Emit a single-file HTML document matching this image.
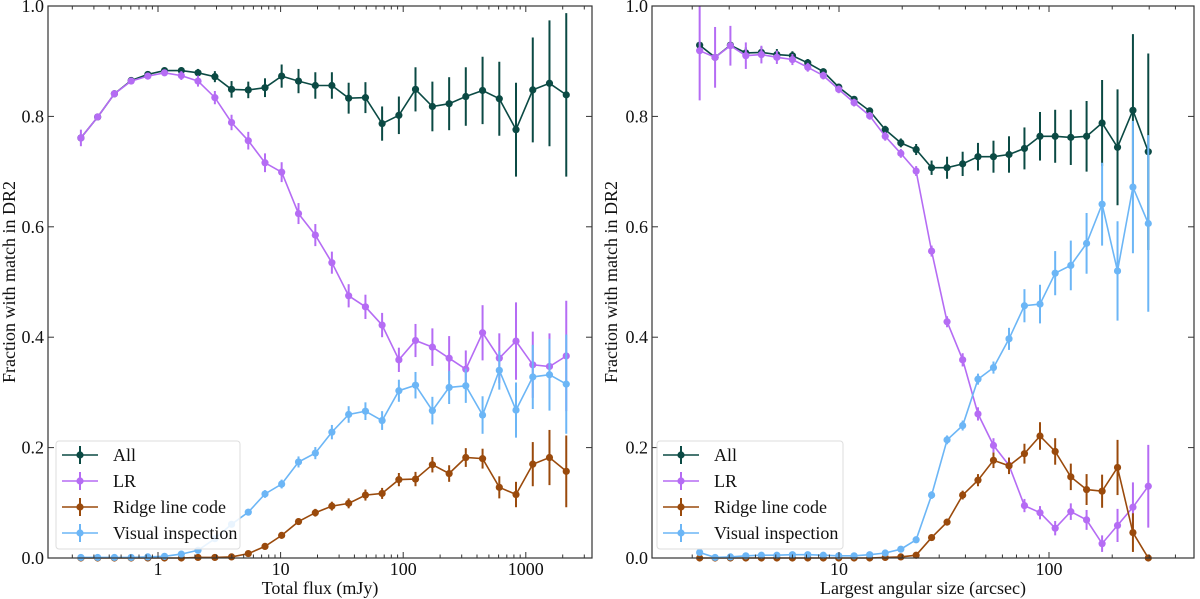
<!DOCTYPE html>
<html><head><meta charset="utf-8"><style>
html,body{margin:0;padding:0;background:#fff;}
svg{display:block;}
svg text{font-family:"Liberation Serif","DejaVu Serif",serif;}
</style></head><body>
<svg id="fig" width="1200" height="599" viewBox="0 0 1200 599" xmlns="http://www.w3.org/2000/svg"></svg>
<script>
// ---- Left panel data (Total flux, mJy) ----
const fluxX = [0.235,0.322,0.441,0.604,0.826,1.13,1.55,2.12,2.91,3.98,5.45,7.46,10.2,14.0,19.2,26.2,35.9,49.2,67.3,92.2,126,173,237,324,444,608,832,1140,1560,2138];
const fluxAll = [0.761,0.799,0.841,0.865,0.876,0.883,0.883,0.879,0.872,0.849,0.848,0.852,0.873,0.864,0.856,0.856,0.833,0.834,0.787,0.802,0.849,0.818,0.823,0.836,0.847,0.832,0.776,0.848,0.860,0.839];
const fluxAllErr = [0.004,0.004,0.004,0.004,0.004,0.005,0.006,0.007,0.01,0.015,0.015,0.017,0.021,0.022,0.024,0.024,0.028,0.028,0.031,0.034,0.04,0.045,0.048,0.053,0.061,0.067,0.085,0.095,0.114,0.148];
const fluxLR = [0.761,0.799,0.841,0.864,0.873,0.879,0.874,0.864,0.834,0.789,0.756,0.716,0.699,0.624,0.585,0.535,0.475,0.455,0.422,0.359,0.394,0.382,0.362,0.342,0.408,0.362,0.393,0.350,0.347,0.366];
const fluxLRErr = [0.015,0.006,0.006,0.006,0.006,0.006,0.008,0.01,0.012,0.014,0.016,0.017,0.018,0.019,0.02,0.02,0.021,0.022,0.022,0.022,0.03,0.034,0.04,0.034,0.05,0.045,0.07,0.06,0.06,0.1];
const fluxRidge = [0,0,0,0,0,0,0,0.001,0.001,0.002,0.008,0.021,0.041,0.066,0.082,0.094,0.099,0.114,0.117,0.142,0.143,0.169,0.153,0.182,0.180,0.128,0.115,0.170,0.182,0.157];
const fluxRidgeErr = [0,0,0,0,0,0,0,0,0,0.002,0.003,0.004,0.005,0.006,0.007,0.008,0.009,0.01,0.01,0.012,0.013,0.014,0.015,0.017,0.018,0.02,0.023,0.04,0.05,0.065];
const fluxVis = [0.001,0.001,0.001,0.001,0.002,0.003,0.007,0.014,0.035,0.061,0.083,0.116,0.134,0.174,0.190,0.228,0.260,0.266,0.249,0.303,0.313,0.267,0.309,0.312,0.259,0.340,0.268,0.328,0.332,0.315];
const fluxVisErr = [0,0,0,0,0,0.001,0.002,0.003,0.004,0.005,0.006,0.007,0.008,0.01,0.011,0.013,0.015,0.016,0.017,0.02,0.024,0.025,0.03,0.031,0.034,0.035,0.05,0.058,0.065,0.09];
// ---- Right panel data (Largest angular size, arcsec) ----
const lasX = [2.17,2.57,3.04,3.60,4.27,5.06,6.00,7.10,8.42,9.97,11.8,14.0,16.6,19.7,23.3,27.6,32.7,38.8,45.9,54.4,64.5,76.4,90.6,107,127,151,179,212,251,297];
const lasAll = [0.929,0.907,0.929,0.915,0.916,0.912,0.910,0.897,0.881,0.853,0.831,0.810,0.776,0.752,0.740,0.707,0.707,0.714,0.727,0.727,0.731,0.742,0.764,0.764,0.762,0.764,0.788,0.744,0.811,0.736];
const lasAllErr = [0.005,0.006,0.006,0.01,0.01,0.01,0.008,0.007,0.006,0.005,0.005,0.006,0.007,0.008,0.01,0.013,0.02,0.022,0.025,0.029,0.033,0.038,0.044,0.048,0.05,0.064,0.078,0.105,0.138,0.178];
const lasLR = [0.919,0.907,0.928,0.910,0.912,0.907,0.903,0.889,0.874,0.849,0.825,0.801,0.764,0.733,0.701,0.556,0.428,0.359,0.261,0.204,0.168,0.095,0.082,0.054,0.084,0.069,0.026,0.059,0.092,0.130];
const lasLRErr = [0.09,0.055,0.036,0.024,0.016,0.012,0.01,0.008,0.007,0.007,0.007,0.007,0.008,0.008,0.009,0.01,0.01,0.012,0.012,0.013,0.013,0.012,0.012,0.013,0.015,0.018,0.015,0.03,0.045,0.075];
const lasRidge = [0,0,0,0,0,0,0,0,0,0,0,0,0.001,0.002,0.005,0.037,0.065,0.114,0.141,0.177,0.167,0.189,0.221,0.193,0.147,0.124,0.121,0.164,0.046,0];
const lasRidgeErr = [0,0,0,0,0,0,0,0,0,0,0,0,0,0.001,0.002,0.004,0.006,0.008,0.011,0.014,0.015,0.018,0.025,0.024,0.024,0.028,0.03,0.05,0.035,0];
const lasVis = [0.010,0.001,0.002,0.004,0.005,0.005,0.006,0.006,0.005,0.004,0.004,0.006,0.009,0.016,0.033,0.114,0.214,0.240,0.324,0.345,0.397,0.457,0.460,0.516,0.530,0.570,0.641,0.520,0.672,0.606];
const lasVisErr = [0.004,0.001,0.001,0.001,0.001,0.001,0.001,0.001,0.001,0.001,0.001,0.002,0.003,0.004,0.005,0.007,0.008,0.009,0.01,0.011,0.02,0.03,0.035,0.04,0.045,0.055,0.075,0.09,0.12,0.16];
const yTicks = [0,0.2,0.4,0.6,0.8,1.0];
const yTickLabels = ["0.0","0.2","0.4","0.6","0.8","1.0"];
const fluxTicks = [1,10,100,1000];
const fluxTickLabels = ["1","10","100","1000"];
const lasTicks = [10,100];
const lasTickLabels = ["10","100"];
const seriesNames = ["All","LR","Ridge line code","Visual inspection"];
const seriesColors = ["#0b4a44","#b56cf4","#9a4a0c","#6cb6f6"];

const NS = "http://www.w3.org/2000/svg";
const svg = document.getElementById('fig');
function mk(tag, attrs, parent){
  const e = document.createElementNS(NS, tag);
  for (const k in attrs) e.setAttribute(k, attrs[k]);
  (parent||svg).appendChild(e);
  return e;
}
const Y0 = 558, Y1 = 6;
function yScale(v){ return Y0 - (Y0 - Y1) * v; }
const FF = '"Liberation Serif", "DejaVu Serif", serif';

function panel(opts){
  const g = mk('g', {});
  
  
  const xs = v => opts.px0 + opts.ppd * Math.log10(v);
  const L = opts.left, R = opts.right;
  const gd = mk('g', {}, g);
  
  
  opts.series.forEach((s, si) => {
    const sg = mk('g', {}, gd);
    
    
    const col = seriesColors[si];
    s.y.forEach((v, i) => {
      const x = xs(opts.x[i]);
      const e = s.e[i];
      if (e > 0) {
        const eb = mk('line', {x1:x, x2:x, y1:yScale(v - e), y2:yScale(Math.min(v + e, 1.2)), stroke:col, 'stroke-width':2}, sg);
        
        
      }
    });
    const pts = s.y.map((v, i) => xs(opts.x[i]).toFixed(1) + ',' + yScale(v).toFixed(1)).join(' ');
    const pl = mk('polyline', {points:pts, fill:'none', stroke:col, 'stroke-width':1.6}, sg);
    
    
    s.y.forEach((v, i) => {
      const c = mk('circle', {cx:xs(opts.x[i]), cy:yScale(v), r:3.6, fill:col}, sg);
      
      
    });
  });
  mk('rect', {x:L-1, y:0, width:R-L+2, height:Y1, fill:'#fff'}, g);
  const fr = mk('rect', {x:L, y:Y1, width:R-L, height:Y0-Y1, fill:'none', stroke:'#333', 'stroke-width':1.2}, g);
  
  
  yTicks.forEach((t, i) => {
    const y = yScale(t);
    mk('line', {x1:L, x2:L+6, y1:y, y2:y, stroke:'#333', 'stroke-width':1}, g);
    mk('line', {x1:R, x2:R-6, y1:y, y2:y, stroke:'#333', 'stroke-width':1}, g);
    if (opts.yLabels) {
      const tx = mk('text', {x:L-4, y:y+6, 'text-anchor':'end', 'font-size':18, fill:'#111', 'font-family':FF}, g);
      
      
      tx.textContent = yTickLabels[i];
    }
  });
  const lo = Math.floor((L - opts.px0) / opts.ppd), hi = Math.ceil((R - opts.px0) / opts.ppd);
  for (let d = lo; d <= hi; d++) {
    for (let m = 1; m <= 9; m++) {
      const x = xs(m * Math.pow(10, d));
      if (x < L + 0.5 || x > R - 0.5) continue;
      const len = m === 1 ? 6 : 3.5;
      mk('line', {x1:x, x2:x, y1:Y0, y2:Y0-len, stroke:'#333', 'stroke-width':1}, g);
      mk('line', {x1:x, x2:x, y1:Y1, y2:Y1+len, stroke:'#333', 'stroke-width':1}, g);
    }
  }
  opts.ticks.forEach((t, i) => {
    const tx = mk('text', {x:xs(t), y:575, 'text-anchor':'middle', 'font-size':18, fill:'#111', 'font-family':FF}, g);
    
    
    tx.textContent = opts.tickLabels[i];
  });
  const xl = mk('text', {x:(L+R)/2, y:594, 'text-anchor':'middle', 'font-size':18, fill:'#111', 'font-family':FF}, g);
  
  
  xl.textContent = opts.xTitle;
  const yl = mk('text', {x:0, y:0, 'text-anchor':'middle', 'font-size':18, fill:'#111', 'font-family':FF, transform:'translate(' + opts.yTitleX + ',' + ((Y0+Y1)/2) + ') rotate(-90)'}, g);
  
  
  yl.textContent = 'Fraction with match in DR2';
  const lg = mk('g', {}, g);
  
  
  const lx = opts.legX;
  mk('rect', {x:lx, y:441, width:opts.legW, height:108, rx:3, fill:'#fff', 'fill-opacity':0.85, stroke:'#ddd', 'stroke-width':1}, lg);
  seriesNames.forEach((n, i) => {
    const ey = 455 + i * 26;
    const en = mk('g', {}, lg);
    
    
    const col = seriesColors[i];
    mk('line', {x1:lx+6, x2:lx+42, y1:ey, y2:ey, stroke:col, 'stroke-width':1.6}, en);
    mk('line', {x1:lx+24, x2:lx+24, y1:ey-9, y2:ey+9, stroke:col, 'stroke-width':2}, en);
    mk('circle', {cx:lx+24, cy:ey, r:3.6, fill:col}, en);
    const t = mk('text', {x:lx+57, y:ey+6, 'font-size':18, fill:'#111', 'font-family':FF}, en);
    t.textContent = n;
  });
}

panel({name:'left-panel-total-flux', left:48, right:592, px0:158, ppd:122.6, x:fluxX,
  series:[{y:fluxAll,e:fluxAllErr},{y:fluxLR,e:fluxLRErr},{y:fluxRidge,e:fluxRidgeErr},{y:fluxVis,e:fluxVisErr}],
  ticks:fluxTicks, tickLabels:fluxTickLabels, xTitle:'Total flux (mJy)', yTitleX:15, yLabels:true, legX:56, legW:184});
panel({name:'right-panel-angular-size', left:652, right:1194, px0:629, ppd:210, x:lasX,
  series:[{y:lasAll,e:lasAllErr},{y:lasLR,e:lasLRErr},{y:lasRidge,e:lasRidgeErr},{y:lasVis,e:lasVisErr}],
  ticks:lasTicks, tickLabels:lasTickLabels, xTitle:'Largest angular size (arcsec)', yTitleX:617, yLabels:true, legX:657, legW:186});
</script>
</body></html>
